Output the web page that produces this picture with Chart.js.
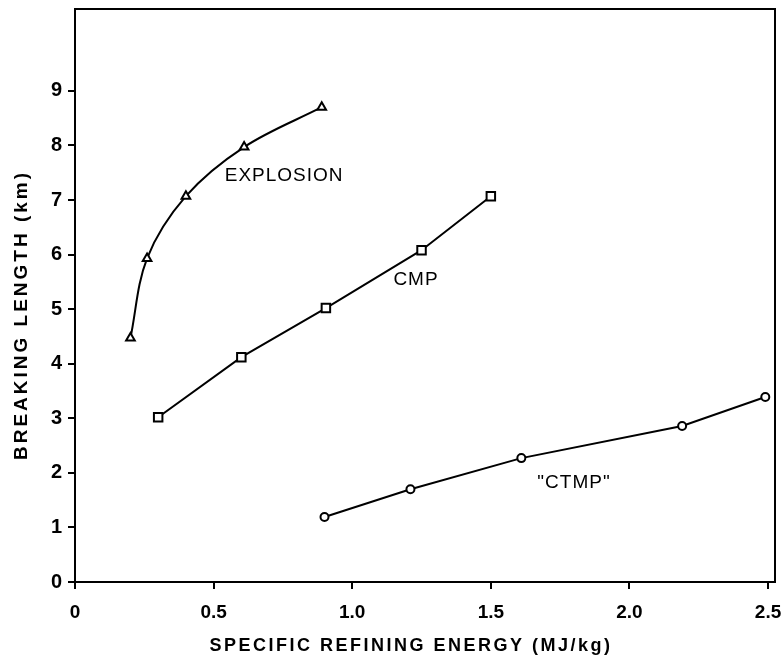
<!DOCTYPE html>
<html><head><meta charset="utf-8">
<script src="https://cdn.jsdelivr.net/npm/chart.js@4.4.1/dist/chart.umd.min.js"></script>
<style>html,body{margin:0;padding:0;background:#fff}#wrap{width:783px;height:659px;position:relative}</style>
</head><body><div id="wrap"><canvas id="c" width="783" height="659"></canvas></div>
<script>
// ---- data ----
const explosionX = [0.20, 0.26, 0.40, 0.61, 0.89];
const explosionY = [4.47, 5.93, 7.07, 7.97, 8.70];
const cmpX = [0.30, 0.60, 0.905, 1.25, 1.50];
const cmpY = [3.02, 4.12, 5.02, 6.08, 7.07];
const ctmpX = [0.90, 1.21, 1.61, 2.19, 2.49];
const ctmpY = [1.19, 1.70, 2.27, 2.86, 3.39];
const seriesNames = ['EXPLOSION', 'CMP', '"CTMP"'];
const xTickValues = [0, 0.5, 1.0, 1.5, 2.0, 2.5];
const xTickLabels = ['0', '0.5', '1.0', '1.5', '2.0', '2.5'];
const yTickValues = [0, 1, 2, 3, 4, 5, 6, 7, 8, 9];
const yTickLabels = ['0', '1', '2', '3', '4', '5', '6', '7', '8', '9'];
const xTitle = 'SPECIFIC REFINING ENERGY (MJ/kg)';
const yTitle = 'BREAKING LENGTH (km)';

const pts = (xs, ys) => xs.map((x, i) => ({x: x, y: ys[i]}));
const FONT = "'Liberation Sans', Arial, sans-serif";

const frameAndText = {
  id: 'frameAndText',
  beforeDatasetsDraw(chart) {
    const {ctx, chartArea: a} = chart;
    ctx.save();
    ctx.strokeStyle = '#000';
    ctx.lineWidth = 2;
    ctx.strokeRect(a.left, a.top, a.right - a.left, a.bottom - a.top);
    ctx.restore();
  },
  afterDraw(chart) {
    const {ctx} = chart;
    const xs = chart.scales.x, ys = chart.scales.y;
    ctx.save();
    ctx.fillStyle = '#000';
    ctx.textBaseline = 'middle';
    // series labels
    ctx.font = '19px ' + FONT;
    ctx.letterSpacing = '1px';
    ctx.textAlign = 'left';
    ctx.fillText(seriesNames[0], xs.getPixelForValue(0.54), ys.getPixelForValue(7.45));
    ctx.textAlign = 'center';
    ctx.fillText(seriesNames[1], xs.getPixelForValue(1.23), ys.getPixelForValue(5.53));
    ctx.fillText(seriesNames[2], xs.getPixelForValue(1.80), ys.getPixelForValue(1.81));
    // axis titles
    ctx.font = 'bold 18px ' + FONT;
    ctx.letterSpacing = '2.5px';
    ctx.textAlign = 'center';
    ctx.fillText(xTitle, 411, 646);
    ctx.save();
    ctx.translate(22, 315);
    ctx.rotate(-Math.PI / 2);
    ctx.font = 'bold 19px ' + FONT;
    ctx.letterSpacing = '3px';
    ctx.fillText(yTitle, 0, 0);
    ctx.restore();
    ctx.restore();
  }
};

const common = {
  showLine: true,
  borderColor: '#000',
  borderWidth: 2,
  pointBorderColor: '#000',
  pointBackgroundColor: '#fff',
  pointBorderWidth: 2,
  pointHoverRadius: 5
};

new Chart(document.getElementById('c'), {
  type: 'scatter',
  data: {
    datasets: [
      Object.assign({label: seriesNames[0], data: pts(explosionX, explosionY), pointStyle: 'triangle', pointRadius: 5, tension: 0.35}, common),
      Object.assign({label: seriesNames[1], data: pts(cmpX, cmpY), pointStyle: 'rect', pointRadius: 6, tension: 0}, common),
      Object.assign({label: seriesNames[2], data: pts(ctmpX, ctmpY), pointStyle: 'circle', pointRadius: 4, tension: 0}, common)
    ]
  },
  options: {
    responsive: false,
    animation: false,
    devicePixelRatio: 1,
    layout: {padding: {left: 0, right: 8, top: 9, bottom: 0}},
    plugins: {legend: {display: false}, tooltip: {enabled: false}},
    scales: {
      x: {
        type: 'linear', min: 0, max: 2.525,
        afterFit(s) { s.height = 77; s.paddingLeft = 0; s.paddingRight = 0; },
        afterBuildTicks(s) { s.ticks = xTickValues.map(v => ({value: v})); },
        border: {display: false},
        grid: {display: true, drawOnChartArea: false, drawTicks: true, tickLength: 7, color: '#000', lineWidth: 2},
        ticks: {
          color: '#000', padding: 12, maxRotation: 0, autoSkip: false,
          font: {family: FONT, size: 19, weight: 'bold'},
          callback: (v) => { const i = xTickValues.indexOf(v); return i >= 0 ? xTickLabels[i] : ''; }
        }
      },
      y: {
        type: 'linear', min: 0, max: 10.5,
        afterFit(s) { s.width = 75; s.paddingTop = 0; s.paddingBottom = 0; },
        afterBuildTicks(s) { s.ticks = yTickValues.map(v => ({value: v})); },
        border: {display: false},
        grid: {display: true, drawOnChartArea: false, drawTicks: true, tickLength: 7, color: '#000', lineWidth: 2},
        ticks: {
          color: '#000', padding: 6, autoSkip: false,
          font: {family: FONT, size: 20, weight: 'bold'},
          callback: (v) => { const i = yTickValues.indexOf(v); return i >= 0 ? yTickLabels[i] : ''; }
        }
      }
    }
  },
  plugins: [frameAndText]
});
</script>
</body></html>
